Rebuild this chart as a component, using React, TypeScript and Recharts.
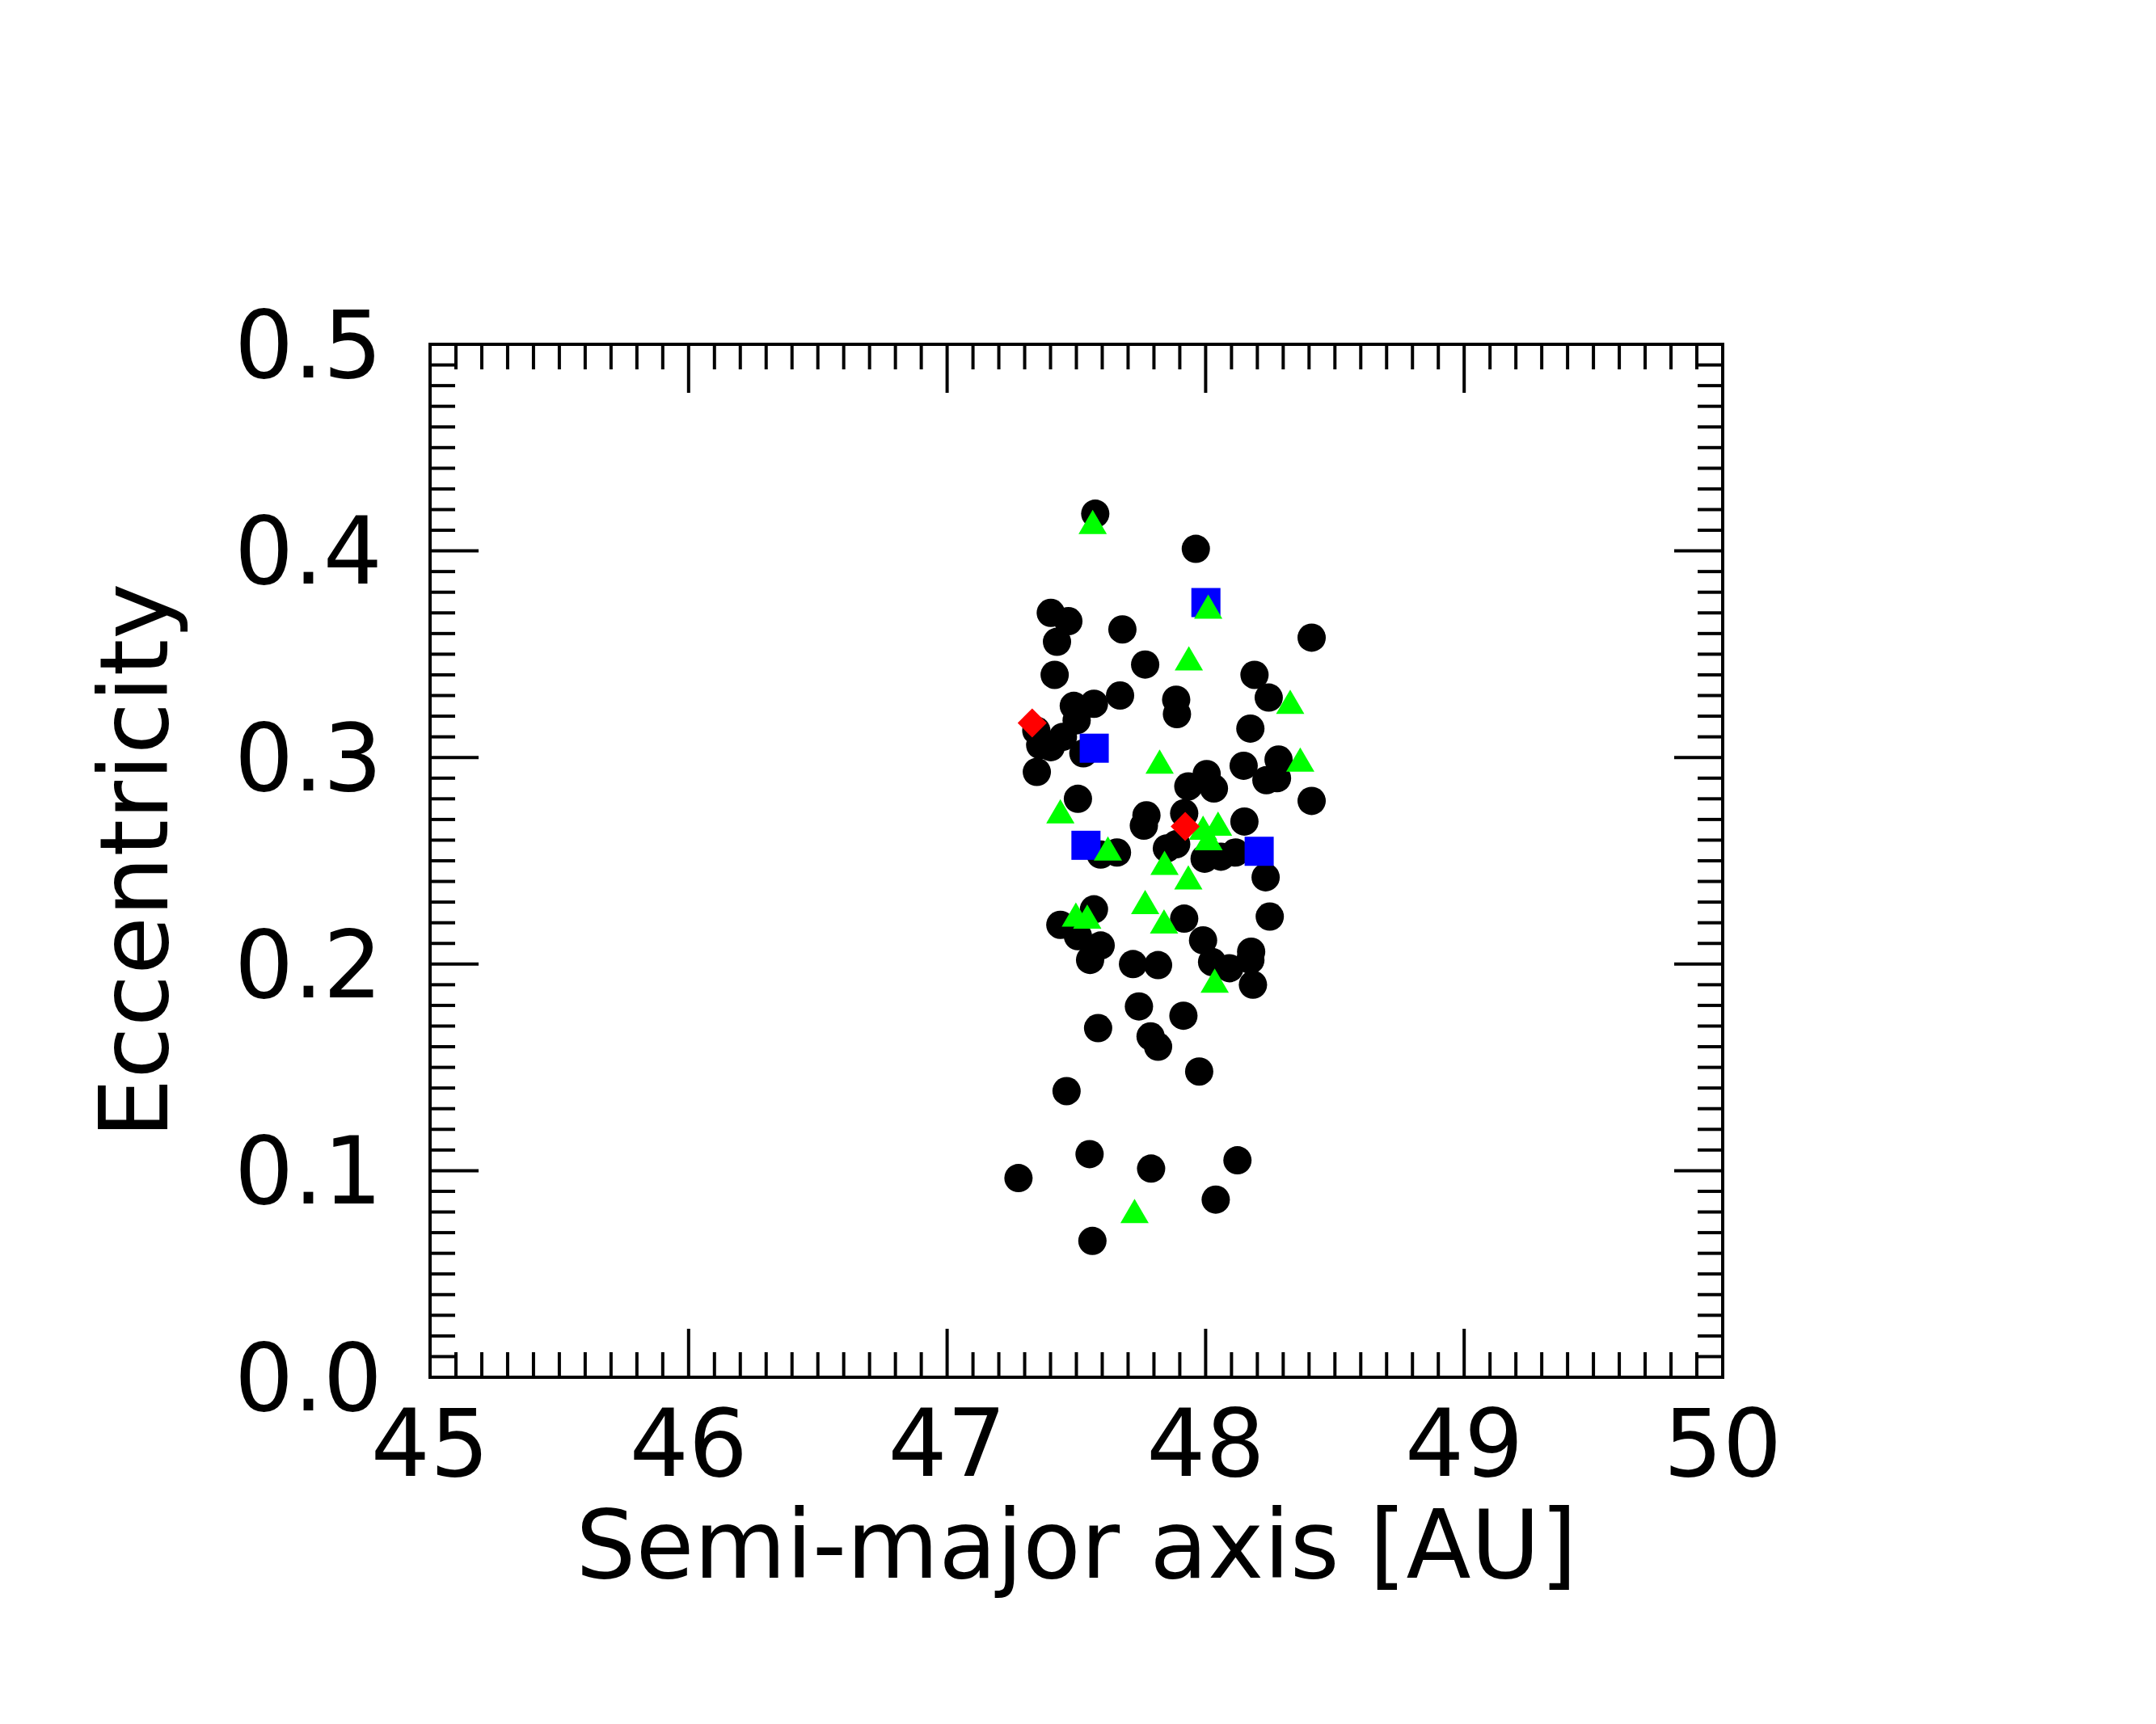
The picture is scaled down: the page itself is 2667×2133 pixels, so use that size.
import React from 'react';
import { ScatterChart, Scatter, XAxis, YAxis, Label } from 'recharts';

const blackA = [47.573, 47.962, 47.401, 47.469, 47.678, 47.425, 48.410, 47.766, 47.416, 48.189, 48.244, 47.669, 47.886, 47.889, 47.568, 47.490, 47.501, 47.448, 47.360, 47.401, 47.345, 47.527, 47.347, 48.173, 48.147, 48.282, 48.235, 48.276, 48.004, 47.933, 48.032, 48.410, 47.506, 47.771, 47.761, 47.917, 48.150, 47.850, 47.886, 47.594, 47.657, 47.996, 48.059, 48.115, 48.232, 47.568, 47.438, 47.917, 48.248, 47.506, 47.594, 47.553, 47.719, 47.816, 47.990, 48.025, 48.092, 48.176, 48.173, 48.183, 47.742, 47.914, 47.584, 47.787, 47.816, 47.975, 47.462, 47.551, 47.276, 47.789, 48.123, 48.039, 47.562];
const blackE = [0.418, 0.401, 0.370, 0.366, 0.362, 0.356, 0.358, 0.345, 0.340, 0.340, 0.329, 0.330, 0.328, 0.321, 0.326, 0.325, 0.318, 0.310, 0.306, 0.305, 0.313, 0.302, 0.293, 0.314, 0.296, 0.299, 0.289, 0.290, 0.292, 0.286, 0.285, 0.279, 0.280, 0.272, 0.267, 0.273, 0.269, 0.256, 0.258, 0.253, 0.254, 0.251, 0.252, 0.254, 0.242, 0.2265, 0.219, 0.222, 0.223, 0.2135, 0.209, 0.202, 0.200, 0.1995, 0.2115, 0.201, 0.198, 0.206, 0.202, 0.190, 0.1795, 0.175, 0.169, 0.165, 0.160, 0.148, 0.1385, 0.108, 0.0964, 0.101, 0.105, 0.086, 0.066];

const greenA = [47.563, 48.010, 47.935, 48.327, 47.822, 48.366, 47.438, 47.990, 48.048, 48.011, 47.622, 47.841, 47.933, 47.766, 47.498, 47.542, 47.839, 48.035, 47.725];
const greenE = [0.414, 0.373, 0.348, 0.327, 0.298, 0.299, 0.274, 0.266, 0.268, 0.261, 0.256, 0.249, 0.242, 0.230, 0.224, 0.223, 0.2207, 0.192, 0.0805];

const blueA = [47.569, 48.001, 47.537, 48.207];
const blueE = [0.3045, 0.375, 0.2575, 0.2546];

const redA = [47.329, 47.921];
const redE = [0.3167, 0.2666];

const xMajor = [45, 46, 47, 48, 49, 50];
const xMinor: number[] = [];
for (let i = 0; i <= 50; i++) if (i % 10 !== 0) xMinor.push(45 + i / 10);
const yMajor = [0, 0.1, 0.2, 0.3, 0.4, 0.5];
const yMinor: number[] = [];
for (let i = 0; i <= 50; i++) if (i % 10 !== 0) yMinor.push(i / 100);

const zip = (a: number[], e: number[]) => a.map((v, i) => ({ a: v, e: e[i] }));
const blackData = zip(blackA, blackE);
const greenData = zip(greenA, greenE);
const blueData = zip(blueA, blueE);
const redData = zip(redA, redE);

const FONT = 'DejaVu Sans';
const tickFont = { fontSize: 115, fill: '#000', fontFamily: FONT };
const titleStyle = { fontSize: 117, fill: '#000', fontFamily: FONT };
const axisLine = { stroke: '#000', strokeWidth: 4, strokeLinecap: 'square' as const };
const tickLine = { stroke: '#000', strokeWidth: 4 };
const TH = 0.001;
const NoLabel = () => <g />;

const CircleShape = (p: any) => <circle cx={p.cx} cy={p.cy} r={17.5} fill="#000000" />;
const TriShape = (p: any) => (
  <polygon points={`${p.cx},${p.cy - 15} ${p.cx - 17.5},${p.cy + 15} ${p.cx + 17.5},${p.cy + 15}`} fill="#00ff00" />
);
const SquareShape = (p: any) => <rect x={p.cx - 18} y={p.cy - 18} width={36} height={36} fill="#0000ff" />;
const DiamondShape = (p: any) => (
  <polygon points={`${p.cx},${p.cy - 18} ${p.cx + 18},${p.cy} ${p.cx},${p.cy + 18} ${p.cx - 18},${p.cy}`} fill="#ff0000" />
);

export default function App() {
  const xCommon = { type: 'number' as const, dataKey: 'a', domain: [45, 50], allowDataOverflow: true, height: TH, interval: 0 as const };
  const yCommon = { type: 'number' as const, dataKey: 'e', domain: [0, 0.5], allowDataOverflow: true, width: TH, interval: 0 as const };
  return (
    <div style={{ position: 'absolute', left: 0, top: 0, width: 2667, height: 2133, background: '#fff' }}>
      <ScatterChart width={2667} height={2133} margin={{ top: 426, right: 536, bottom: 429, left: 532 }}>
        <XAxis {...xCommon} xAxisId="main" ticks={xMajor} tick={tickFont} tickLine={false} axisLine={axisLine} tickSize={0} tickMargin={40}>
          <Label value="Semi-major axis [AU]" position="bottom" offset={165} style={titleStyle} />
        </XAxis>
        <XAxis {...xCommon} xAxisId="bMaj" ticks={xMajor} tick={NoLabel} tickLine={tickLine} axisLine={false} mirror tickSize={60} />
        <XAxis {...xCommon} xAxisId="bMin" ticks={xMinor} tick={NoLabel} tickLine={tickLine} axisLine={false} mirror tickSize={31} />
        <XAxis {...xCommon} xAxisId="tMaj" orientation="top" ticks={xMajor} tick={NoLabel} tickLine={tickLine} axisLine={axisLine} mirror tickSize={60} />
        <XAxis {...xCommon} xAxisId="tMin" orientation="top" ticks={xMinor} tick={NoLabel} tickLine={tickLine} axisLine={false} mirror tickSize={31} />

        <YAxis {...yCommon} yAxisId="main" ticks={yMajor} tick={tickFont} tickFormatter={(v: number) => v.toFixed(1)} tickLine={false} axisLine={axisLine} tickSize={0} tickMargin={59}>
          <Label value="Eccentricity" position="center" angle={-90} dx={-367} style={titleStyle} />
        </YAxis>
        <YAxis {...yCommon} yAxisId="lMaj" ticks={yMajor} tick={NoLabel} tickLine={tickLine} axisLine={false} mirror tickSize={60} />
        <YAxis {...yCommon} yAxisId="lMin" ticks={yMinor} tick={NoLabel} tickLine={tickLine} axisLine={false} mirror tickSize={31} />
        <YAxis {...yCommon} yAxisId="rMaj" orientation="right" ticks={yMajor} tick={NoLabel} tickLine={tickLine} axisLine={axisLine} mirror tickSize={60} />
        <YAxis {...yCommon} yAxisId="rMin" orientation="right" ticks={yMinor} tick={NoLabel} tickLine={tickLine} axisLine={false} mirror tickSize={31} />

        <Scatter xAxisId="main" yAxisId="main" data={blackData} shape={CircleShape} isAnimationActive={false} />
        <Scatter xAxisId="main" yAxisId="main" data={blueData} shape={SquareShape} isAnimationActive={false} />
        <Scatter xAxisId="main" yAxisId="main" data={greenData} shape={TriShape} isAnimationActive={false} />
        <Scatter xAxisId="main" yAxisId="main" data={redData} shape={DiamondShape} isAnimationActive={false} />
      </ScatterChart>
    </div>
  );
}
